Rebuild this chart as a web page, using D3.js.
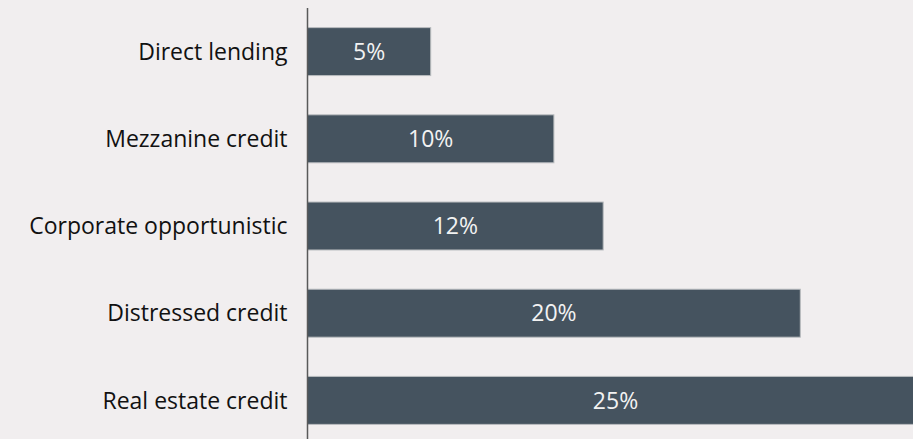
<!DOCTYPE html>
<html>
<head>
<meta charset="utf-8">
<script src="https://cdn.jsdelivr.net/npm/d3@7"></script>
<style>
  html, body { margin: 0; padding: 0; background: #f1eeef; }
  svg { display: block; }
</style>
</head>
<body>
<svg id="chart" width="913" height="439"></svg>
<script>
// Strategy shares, top to bottom
const categories = ["Direct lending", "Mezzanine credit", "Corporate opportunistic", "Distressed credit", "Real estate credit"];
const values = [5, 10, 12, 20, 25];
const valueLabels = ["5%", "10%", "12%", "20%", "25%"];

const width = 913, height = 439;
const axisX = 307.5;

const svg = d3.select("#chart");
svg.append("rect").attr("width", width).attr("height", height).attr("fill", "#f1eeef");

const x = d3.scaleLinear().domain([0, 25]).range([axisX, axisX + 616]);
const y = d3.scaleBand().domain(categories).range([8, 444]).paddingInner(0.45).paddingOuter(0.225);

const font = "'Open Sans', sans-serif";
const fontSize = 23;

// bars
svg.append("g").selectAll("rect")
  .data(values)
  .join("rect")
  .attr("x", x(0))
  .attr("y", (d, i) => y(categories[i]))
  .attr("width", d => x(d) - x(0))
  .attr("height", y.bandwidth())
  .attr("fill", "#45535f")
  .attr("stroke", "#b9bcbf")
  .attr("stroke-width", 1);

// value labels centred in bars
svg.append("g").selectAll("text")
  .data(values)
  .join("text")
  .attr("x", d => (x(0) + x(d)) / 2)
  .attr("y", (d, i) => y(categories[i]) + y.bandwidth() / 2)
  .attr("dy", "0.36em")
  .attr("text-anchor", "middle")
  .attr("fill", "#f2f2f2")
  .attr("font-family", font)
  .attr("font-size", fontSize)
  .text((d, i) => valueLabels[i]);

// category axis on the left
const axis = d3.axisLeft(y).tickSize(0).tickPadding(20);
const g = svg.append("g").attr("transform", `translate(${axisX},0)`).call(axis);
g.select(".domain").remove();
g.selectAll("text")
  .attr("fill", "#111")
  .attr("font-family", font)
  .attr("font-size", fontSize)
  .attr("dy", "0.36em");

svg.append("line")
  .attr("x1", axisX).attr("x2", axisX)
  .attr("y1", 8).attr("y2", height)
  .attr("stroke", "#595959")
  .attr("stroke-width", 1.5);
</script>
</body>
</html>
